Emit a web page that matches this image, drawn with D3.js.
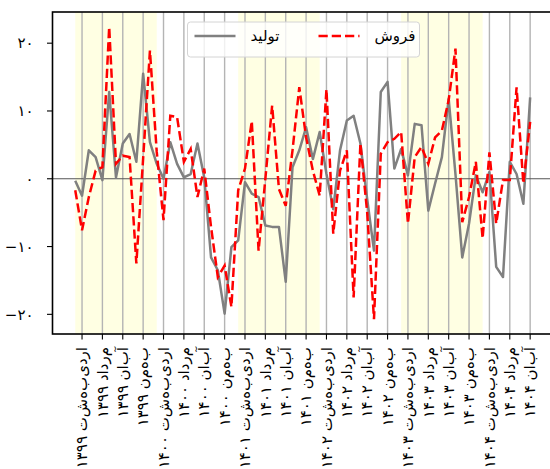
<!DOCTYPE html>
<html lang="fa">
<head>
  <meta charset="UTF-8">
  <title>تولید و فروش</title>
  <script src="https://d3js.org/d3.v7.min.js"></script>
  <style>
    body { margin: 0; background: #fff; }
    svg { display: block; overflow: hidden; }
    text { font-family: 'DejaVu Sans', sans-serif; fill: #000; }
  </style>
</head>
<body>
  <div id="chart"></div>

  <script>
    // ماه‌ها از فروردین ۱۳۹۹ تا آبان ۱۴۰۴
    const monthNames = ["فروردین", "اردیبهشت", "خرداد", "تیر", "مرداد", "شهریور",
                        "مهر", "آبان", "آذر", "دی", "بهمن", "اسفند"];
    const years = ["۱۳۹۹", "۱۴۰۰", "۱۴۰۱", "۱۴۰۲", "۱۴۰۳", "۱۴۰۴"];
    const shadedYears = ["۱۳۹۹", "۱۴۰۱", "۱۴۰۳"];

    const production = [
      -0.3, -2.5, 4.2, 3.2, -0.2, 12.8, 0.2, 5.2, 6.6, 2.5, 15.5, 5.4,
      2.2, 0.0, 5.4, 2.2, 0.2, 0.7, 5.2, 0.2, -11.6, -13.5, -19.9, -10.1,
      -9.1, -0.5, -2.2, -2.7, -6.9, -7.1, -7.1, -15.2, 1.7, 4.2, 7.6, 2.9,
      6.9, 0.7, -4.5, 4.2, 8.6, 9.3, 5.2, -3.0, -10.6, 12.8, 14.3, 1.5,
      4.4, 0.5, 8.1, 7.9, -4.7, -0.7, 3.2, 11.8, 0.7, -11.6, -6.6, 0.5,
      -2.0, 1.0, -13.0, -14.5, 2.5, 0.7, -3.7, 12.0
    ];

    const sales = [
      -1.7, -7.6, -2.7, 1.2, 1.7, 22.4, 2.2, 3.4, 3.2, -12.5, 3.0, 18.9,
      4.0, -6.1, 9.3, 9.1, 2.5, 4.4, -2.7, 1.5, -7.1, -14.5, -12.8, -18.9,
      -1.7, 1.5, 8.5, -10.6, 0.0, 10.8, -1.5, -4.0, 4.2, 13.5, 6.1, 1.2,
      -2.5, 13.2, -8.1, 1.2, 4.2, -17.5, 5.2, -5.0, -20.7, 3.7, 5.4, 5.9,
      6.9, -6.6, 3.2, 4.7, 2.2, 6.1, 7.1, 11.6, 19.2, -6.4, -2.7, 2.5,
      -8.8, 3.9, -6.6, -0.2, -0.2, 13.5, -0.7, 8.4
    ];

    const yTicks = [-20, -10, 0, 10, 20];
    const faDigits = "۰۱۲۳۴۵۶۷۸۹";
    const toFa = v => (v < 0 ? "\u2212" : "") + String(Math.abs(v)).replace(/\d/g, c => faDigits[+c]);
    // حروف جدا از هم، مثل برچسب‌های نمودار اصلی
    const unjoin = s => s.split(" ").map(w => w.split("").join("\u200c")).join(" ");

    const months = [];
    years.forEach(y => monthNames.forEach(m => months.push(m + " " + y)));
    months.length = production.length;

    const W = 550, H = 469;
    const margin = { top: 12, left: 52.5 };
    const plotW = 500.4, plotH = 322;

    const x = d3.scaleLinear().domain([-3.35, 70.35]).range([0, plotW]);
    const y = d3.scaleLinear().domain([-22.9, 24.6]).range([plotH, 0]);

    const svg = d3.select("#chart").append("svg")
      .attr("width", W).attr("height", H);

    const g = svg.append("g")
      .attr("transform", `translate(${margin.left},${margin.top})`);

    // نوار زرد سال‌ها
    shadedYears.forEach(yr => {
      const start = months.findIndex(m => m.endsWith(yr));
      g.append("rect")
        .attr("x", x(start))
        .attr("y", 0)
        .attr("width", x(start + 12) - x(start))
        .attr("height", plotH)
        .attr("fill", "#ffffe3");
    });

    const tickIdx = d3.range(1, months.length, 3);

    // خطوط شبکه عمودی
    g.append("g").selectAll("line")
      .data(tickIdx)
      .enter().append("line")
      .attr("x1", d => x(d)).attr("x2", d => x(d))
      .attr("y1", 0).attr("y2", plotH)
      .attr("stroke", "#b4b4b4")
      .attr("stroke-width", 1.4);

    // خط صفر
    g.append("line")
      .attr("x1", 0).attr("x2", plotW)
      .attr("y1", y(0)).attr("y2", y(0))
      .attr("stroke", "#555")
      .attr("stroke-width", 1.1);

    const line = d3.line()
      .x((d, i) => x(i))
      .y(d => y(d));

    g.append("path")
      .datum(production)
      .attr("fill", "none")
      .attr("stroke", "#808080")
      .attr("stroke-width", 2.5)
      .attr("stroke-linejoin", "round")
      .attr("d", line);

    g.append("path")
      .datum(sales)
      .attr("fill", "none")
      .attr("stroke", "#ff0000")
      .attr("stroke-width", 2.5)
      .attr("stroke-dasharray", "9.25,4")
      .attr("d", line);

    // محور x
    const xAxis = g.append("g")
      .attr("transform", `translate(0,${plotH})`);
    xAxis.selectAll("line")
      .data(tickIdx)
      .enter().append("line")
      .attr("x1", d => x(d)).attr("x2", d => x(d))
      .attr("y1", 0).attr("y2", 5.5)
      .attr("stroke", "#000").attr("stroke-width", 1.1);
    xAxis.selectAll("text")
      .data(tickIdx)
      .enter().append("text")
      .attr("transform", d => `translate(${x(d)},13) rotate(-90)`)
      .attr("text-anchor", "end")
      .attr("dy", "0.35em")
      .style("font-size", "15px")
      .text(d => unjoin(months[d]));

    // محور y
    const yAxis = g.append("g");
    yAxis.selectAll("line")
      .data(yTicks)
      .enter().append("line")
      .attr("x1", -5.5).attr("x2", 0)
      .attr("y1", d => y(d)).attr("y2", d => y(d))
      .attr("stroke", "#000").attr("stroke-width", 1.1);
    yAxis.selectAll("text")
      .data(yTicks)
      .enter().append("text")
      .attr("x", -19)
      .attr("y", d => y(d))
      .attr("dy", "0.35em")
      .attr("text-anchor", "end")
      .style("font-size", "15px")
      .text(d => toFa(d));

    // قاب
    g.append("rect")
      .attr("width", plotW).attr("height", plotH)
      .attr("fill", "none")
      .attr("stroke", "#000")
      .attr("stroke-width", 1.6);

    // راهنما
    const legend = g.append("g").attr("transform", `translate(${187.5 - margin.left},${22 - margin.top})`);
    legend.append("rect")
      .attr("width", 232).attr("height", 35).attr("rx", 3)
      .attr("fill", "#fff").attr("fill-opacity", 0.8)
      .attr("stroke", "#d4d4d4");
    const items = [
      { label: "تولید", color: "#808080", dash: null, x0: 7 },
      { label: "فروش", color: "#ff0000", dash: "9.25,4", x0: 131 }
    ];
    items.forEach(it => {
      legend.append("line")
        .attr("x1", it.x0).attr("x2", it.x0 + 41)
        .attr("y1", 14).attr("y2", 14)
        .attr("stroke", it.color)
        .attr("stroke-width", 2.5)
        .attr("stroke-dasharray", it.dash);
      legend.append("text")
        .attr("x", it.x0 + 56)
        .attr("y", 14)
        .attr("dy", "0.35em")
        .style("font-size", "15px")
        .text(it.label);
    });
  </script>
</body>
</html>
